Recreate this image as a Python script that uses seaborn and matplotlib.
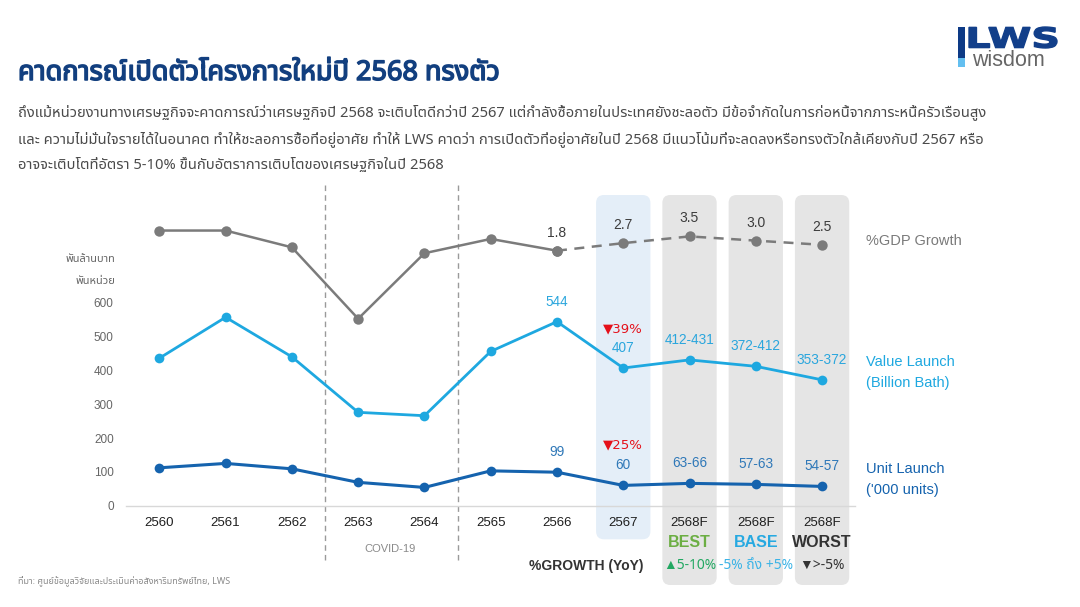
import numpy as np
import pandas as pd
import seaborn as sns
import matplotlib
matplotlib.use("Agg")
import matplotlib.pyplot as plt
import matplotlib.transforms as mtransforms
import matplotlib.patheffects as pe
from matplotlib.patches import FancyBboxPatch, Rectangle, PathPatch
from matplotlib.textpath import TextPath
from matplotlib.font_manager import FontProperties
from matplotlib import font_manager as fm

# ---------------- data ----------------
years = ["2560", "2561", "2562", "2563", "2564", "2565", "2566", "2567", "2568F", "2568F", "2568F"]
gdp_growth = [4.2, 4.2, 2.2, -6.3, 1.5, 3.2, 1.8, 2.7, 3.5, 3.0, 2.5]
value_launch = [436, 557, 440, 276, 266, 456, 544, 407, 431, 412, 372]
unit_launch = [112, 125, 109, 69, 54, 103, 99, 60, 66, 63, 57]
gdp_labels = ["", "", "", "", "", "", "1.8", "2.7", "3.5", "3.0", "2.5"]
value_labels = ["", "", "", "", "", "", "544", "407", "412-431", "372-412", "353-372"]
unit_labels = ["", "", "", "", "", "", "99", "60", "63-66", "57-63", "54-57"]
value_change_2567 = "▼39%"
unit_change_2567 = "▼25%"
scenario_names = ["BEST", "BASE", "WORST"]
scenario_growth = ["▲5-10%", "-5% ถึง +5%", "▼>-5%"]
y_ticks = [0, 100, 200, 300, 400, 500, 600]

title = "คาดการณ์เปิดตัวโครงการใหม่ปี 2568 ทรงตัว"
paragraph = [
    "ถึงแม้หน่วยงานทางเศรษฐกิจจะคาดการณ์ว่าเศรษฐกิจปี 2568 จะเติบโตดีกว่าปี 2567 แต่กำลังซื้อภายในประเทศยังชะลอตัว มีข้อจำกัดในการก่อหนี้จากภาระหนี้ครัวเรือนสูง",
    "และ ความไม่มั่นใจรายได้ในอนาคต ทำให้ชะลอการซื้อที่อยู่อาศัย ทำให้ LWS คาดว่า การเปิดตัวที่อยู่อาศัยในปี 2568 มีแนวโน้มที่จะลดลงหรือทรงตัวใกล้เคียงกับปี 2567 หรือ",
    "อาจจะเติบโตที่อัตรา 5-10% ขึ้นกับอัตราการเติบโตของเศรษฐกิจในปี 2568",
]
source = "ที่มา: ศูนย์ข้อมูลวิจัยและประเมินค่าอสังหาริมทรัพย์ไทย, LWS"

# ---------------- fonts ----------------
def find_thai_family():
    try:
        from fontTools.ttLib import TTFont
    except Exception:
        return None
    found = []
    for f in fm.fontManager.ttflist:
        try:
            tt = TTFont(f.fname, fontNumber=0, lazy=True)
            cmap = tt.getBestCmap()
            if cmap and 0x0E01 in cmap and 0x0E33 in cmap:
                found.append(f.name)
        except Exception:
            pass
    if not found:
        return None
    for pref in ["Noto Sans Thai", "Noto Sans Thai UI", "Loma", "Garuda", "Sarabun", "Kinnari"]:
        if pref in found:
            return pref
    return sorted(set(found))[0]

sns.set_theme(style="white")
thai = find_thai_family()
LAT = ["Liberation Sans", "DejaVu Sans"]
TH = ([thai] if thai else []) + LAT
plt.rcParams["font.family"] = LAT

W, H = 1080, 607
fig = plt.figure(figsize=(W / 100, H / 100), dpi=100)
fig.patch.set_facecolor("white")

def fx(px):
    return px / W

def fy(py):
    return 1 - py / H

# ---------------- axes ----------------
ax_left, ax_right, ax_bottom, ax_top = 126.2, 855.2, 505.7, 180.0
ax = fig.add_axes([fx(ax_left), fy(ax_bottom), (ax_right - ax_left) / W, (ax_bottom - ax_top) / H])
ax.set_facecolor("none")
px_per_unit = 0.3383
ax.set_ylim(0, (ax_bottom - ax_top) / px_per_unit)
ax.set_xlim(-0.5, len(years) - 0.5)

xs = np.arange(len(years))
df = pd.DataFrame({"x": xs, "year": years, "value": value_launch, "unit": unit_launch, "gdp": gdp_growth})

# shaded columns
blend = mtransforms.blended_transform_factory(ax.transData, ax.transAxes)
top_frac = (ax_bottom - 195) / (ax_bottom - ax_top)
blue_bot = (ax_bottom - 539.3) / (ax_bottom - ax_top)
gray_bot = (ax_bottom - 585) / (ax_bottom - ax_top)
col_w = 0.82
asp = (8 / (ax_bottom - ax_top)) / 0.12
for i, yr in enumerate(years):
    if yr == "2567":
        fc, b = "#e4eef8", blue_bot
    elif yr.endswith("F"):
        fc, b = "#e5e5e5", gray_bot
    else:
        continue
    ax.add_patch(FancyBboxPatch((i - col_w / 2, b), col_w, top_frac - b,
                                boxstyle="round,pad=0,rounding_size=0.12", mutation_aspect=asp,
                                transform=blend, clip_on=False, fc=fc, ec="none", zorder=0.2))

# covid dividers
for xd in [2.5, 4.5]:
    ax.plot([xd, xd], [(ax_bottom - 185) / (ax_bottom - ax_top), (ax_bottom - 562) / (ax_bottom - ax_top)],
            transform=blend, clip_on=False, color="#9a9a9a", lw=1.0, ls=(0, (4, 3)), zorder=0.3)

value_c = "#1ea8e0"
unit_c = "#1563ae"
gdp_c = "#7b7b7b"

sns.lineplot(data=df, x="x", y="value", ax=ax, color=value_c, lw=2.0, marker="o", markersize=7,
             markeredgewidth=0, zorder=3, legend=False)
sns.lineplot(data=df, x="x", y="unit", ax=ax, color=unit_c, lw=2.2, marker="o", markersize=7,
             markeredgewidth=0, zorder=3, legend=False)

for i in range(len(years)):
    if value_labels[i]:
        ax.annotate(value_labels[i], (xs[i], value_launch[i]), xytext=(0, 20), textcoords="offset pixels",
                    ha="center", va="center", color="#2aa6dd", fontsize=9.8)
    if unit_labels[i]:
        ax.annotate(unit_labels[i], (xs[i], unit_launch[i]), xytext=(0, 20), textcoords="offset pixels",
                    ha="center", va="center", color="#2f78b8", fontsize=9.8)

i67 = years.index("2567")
ax.annotate(value_change_2567, (xs[i67], value_launch[i67]), xytext=(0, 39), textcoords="offset pixels",
            ha="center", va="center", color="#e5101a", fontsize=9.5, family=["DejaVu Sans"])
ax.annotate(unit_change_2567, (xs[i67], unit_launch[i67]), xytext=(0, 40), textcoords="offset pixels",
            ha="center", va="center", color="#e5101a", fontsize=9.5, family=["DejaVu Sans"])

# axis styling
for s in ["left", "right", "top"]:
    ax.spines[s].set_visible(False)
ax.spines["bottom"].set_color("#d8d8d8")
ax.spines["bottom"].set_linewidth(1.0)
ax.set_yticks(y_ticks)
ax.set_yticklabels([str(v) for v in y_ticks])
ax.tick_params(axis="y", length=0, pad=9, labelsize=8.5, labelcolor="#666666")
ax.set_xticks(xs)
ax.set_xticklabels(years)
ax.tick_params(axis="x", which="major", length=0, pad=8, labelsize=9.5, labelcolor="#1e1e1e")
ax.set_xticks(np.arange(-0.5, len(years), 1.0), minor=True)
ax.tick_params(axis="x", which="minor", length=4, width=1, color="#d0d0d0", direction="out")
ax.set_xlabel("")
ax.set_ylabel("")
ax.grid(False)

# GDP on its own hidden scale
ax2 = ax.twinx()
g_px_per = 8.4
g_ref_px, g_ref = 250.7, 1.8
ax2.set_ylim(g_ref - (ax_bottom - g_ref_px) / g_px_per, g_ref + (g_ref_px - ax_top) / g_px_per)
ax2.set_xlim(ax.get_xlim())
ix66 = years.index("2566")
sns.lineplot(data=df.iloc[:ix66 + 1], x="x", y="gdp", ax=ax2, color=gdp_c, lw=1.8, marker="o",
             markersize=7.5, markeredgewidth=0, legend=False)
sns.lineplot(data=df.iloc[ix66:], x="x", y="gdp", ax=ax2, color=gdp_c, lw=1.8, marker="o",
             markersize=7.5, markeredgewidth=0, legend=False, linestyle=(0, (4, 3)))
for i in range(len(years)):
    if gdp_labels[i]:
        ax2.annotate(gdp_labels[i], (xs[i], gdp_growth[i]), xytext=(0, 18), textcoords="offset pixels",
                     ha="center", va="center", color="#3c3c3c", fontsize=10)
ax2.set_yticks([])
ax2.set_ylabel("")
for s in ax2.spines.values():
    s.set_visible(False)

# ---------------- surrounding text ----------------
fig.text(fx(18), fy(73), title, ha="left", va="center", fontsize=19.5, fontweight="bold",
         color="#123f7f", family=TH,
         path_effects=[pe.withStroke(linewidth=1.1, foreground="#123f7f")])
for k, line in enumerate(paragraph):
    fig.text(fx(18), fy(112 + k * 27), line, ha="left", va="center", fontsize=10.6, color="#4a4a4a", family=TH)

fig.text(fx(115), fy(260), "พันล้านบาท", ha="right", va="center", fontsize=8, color="#666666", family=TH)
fig.text(fx(115), fy(281), "พันหน่วย", ha="right", va="center", fontsize=8, color="#666666", family=TH)

fig.text(fx(866), fy(241), "%GDP Growth", ha="left", va="center", fontsize=10.5, color="#7a7a7a")
fig.text(fx(866), fy(362), "Value Launch", ha="left", va="center", fontsize=10.5, color="#1ea8e0")
fig.text(fx(866), fy(383), "(Billion Bath)", ha="left", va="center", fontsize=10.5, color="#1ea8e0")
fig.text(fx(866), fy(469), "Unit Launch", ha="left", va="center", fontsize=10.5, color="#1563ae")
fig.text(fx(866), fy(490), "('000 units)", ha="left", va="center", fontsize=10.5, color="#1563ae")

fig.text(fx(390), fy(549), "COVID-19", ha="center", va="center", fontsize=8, color="#8a8a8a")

scen_colors = ["#6cae43", "#27a9e1", "#333333"]
grow_colors = ["#22a862", "#3bb3e6", "#333333"]
f_idx = [i for i, y in enumerate(years) if y.endswith("F")]
for j, i in enumerate(f_idx):
    xpix = ax.transData.transform((xs[i], 0))[0]
    fig.text(xpix / W, fy(542.7), scenario_names[j], ha="center", va="center", fontsize=11.5,
             fontweight="bold", color=scen_colors[j])
    fig.text(xpix / W, fy(565.7), scenario_growth[j], ha="center", va="center", fontsize=10,
             color=grow_colors[j], family=TH + ["DejaVu Sans"])
fig.text(fx(586), fy(565.7), "%GROWTH (YoY)", ha="center", va="center", fontsize=10,
         fontweight="bold", color="#333333")

fig.text(fx(18), fy(582), source, ha="left", va="center", fontsize=6.5, color="#8a8a8a", family=TH)

# ---------------- logo ----------------
fig.add_artist(Rectangle((fx(958), fy(58)), 7 / W, 31.3 / H, transform=fig.transFigure, fc="#0d3a86", ec="none"))
fig.add_artist(Rectangle((fx(958), fy(67)), 7 / W, 9 / H, transform=fig.transFigure, fc="#63bff0", ec="none"))
fp = FontProperties(family="DejaVu Sans", weight="bold")
tp = TextPath((0, 0), "LWS", size=10, prop=fp)
ext = tp.get_extents()
sx, sy = 88 / ext.width, 21 / ext.height
tr = mtransforms.Affine2D().translate(-ext.x0, -ext.y0).scale(sx, sy).translate(969, H - 48)
fig.add_artist(PathPatch(tr.transform_path(tp), fc="#123f8a", ec="#123f8a", lw=1.0,
                         transform=mtransforms.IdentityTransform()))
fig.text(fx(972), fy(60), "wisdom", ha="left", va="center", fontsize=15.5, color="#666666")

fig.savefig("out.png", dpi=100, facecolor="white")
